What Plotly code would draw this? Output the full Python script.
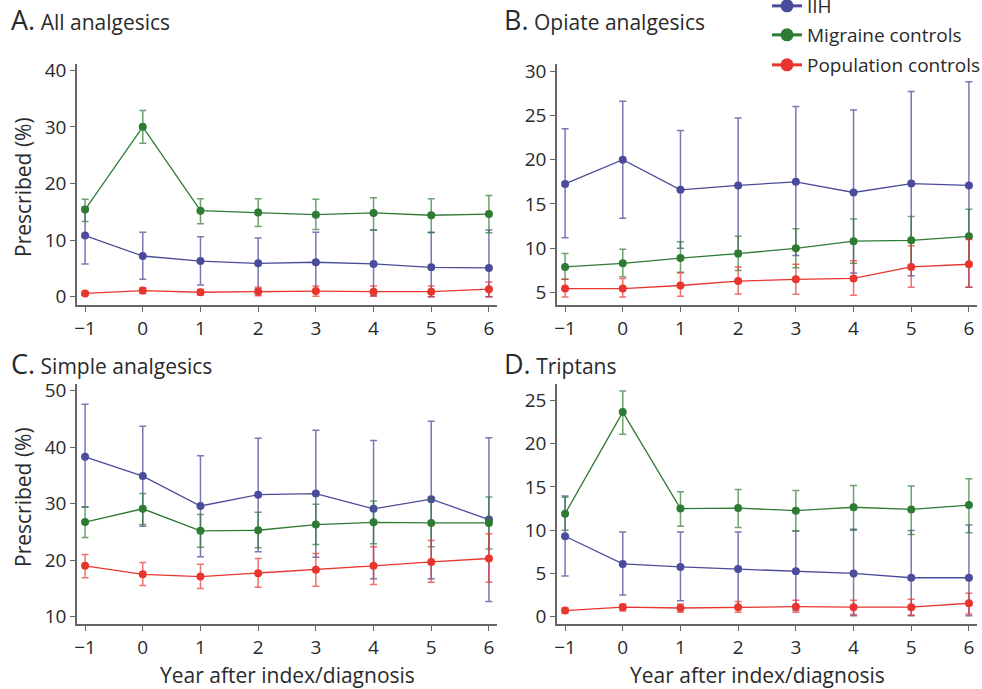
import plotly.graph_objects as go

years = [-1, 0, 1, 2, 3, 4, 5, 6]
year_labels = ["\u22121", "0", "1", "2", "3", "4", "5", "6"]
series_names = ["IIH", "Migraine controls", "Population controls"]
colors = {"IIH": "#4b4b9b", "Migraine controls": "#2e7b34", "Population controls": "#e8352e"}
err_colors = {"IIH": "rgba(75,75,155,0.75)", "Migraine controls": "rgba(46,123,52,0.7)",
              "Population controls": "rgba(232,53,46,0.7)"}

# Panel A: All analgesics (mean, upper CI, lower CI)
A_iih = [10.8, 7.2, 6.3, 5.9, 6.1, 5.8, 5.2, 5.1]
A_iih_hi = [15.9, 11.4, 10.6, 10.4, 11.4, 11.8, 11.4, 11.8]
A_iih_lo = [5.8, 3.1, 2.1, 1.4, 0.9, 0.2, 0.0, 0.0]
A_mig = [15.4, 30.0, 15.2, 14.9, 14.5, 14.8, 14.4, 14.6]
A_mig_hi = [17.2, 32.9, 17.3, 17.3, 17.2, 17.5, 17.3, 17.9]
A_mig_lo = [13.3, 27.1, 12.9, 12.4, 11.9, 11.8, 11.3, 11.3]
A_pop = [0.6, 1.1, 0.8, 0.9, 1.0, 0.9, 0.9, 1.35]
A_pop_hi = [0.9, 1.6, 1.3, 1.7, 1.9, 1.9, 1.9, 2.6]
A_pop_lo = [0.3, 0.6, 0.3, 0.2, 0.1, 0.1, 0.0, 0.0]

# Panel B: Opiate analgesics
B_iih = [17.26, 20.0, 16.6, 17.1, 17.5, 16.3, 17.3, 17.1]
B_iih_hi = [23.5, 26.6, 23.3, 24.7, 26.0, 25.6, 27.7, 28.8]
B_iih_lo = [11.2, 13.4, 10.0, 9.7, 9.2, 7.2, 6.9, 5.6]
B_mig = [7.9, 8.3, 8.9, 9.4, 10.0, 10.8, 10.9, 11.35]
B_mig_hi = [9.4, 9.9, 10.75, 11.35, 12.2, 13.3, 13.6, 14.4]
B_mig_lo = [6.5, 6.8, 7.3, 7.5, 7.8, 8.3, 8.1, 8.3]
B_pop = [5.45, 5.45, 5.8, 6.3, 6.5, 6.6, 7.9, 8.2]
B_pop_hi = [6.5, 6.6, 7.2, 7.9, 8.2, 8.6, 10.3, 11.0]
B_pop_lo = [4.5, 4.5, 4.6, 4.85, 4.8, 4.7, 5.6, 5.6]

# Panel C: Simple analgesics
C_iih = [38.3, 34.9, 29.6, 31.6, 31.8, 29.1, 30.8, 27.2]
C_iih_hi = [47.6, 43.7, 38.5, 41.6, 43.0, 41.2, 44.6, 41.7]
C_iih_lo = [29.4, 26.0, 20.6, 21.5, 20.5, 16.7, 16.7, 12.7]
C_mig = [26.75, 29.1, 25.2, 25.3, 26.3, 26.7, 26.6, 26.6]
C_mig_hi = [29.4, 31.8, 28.1, 28.5, 29.9, 30.5, 30.8, 31.2]
C_mig_lo = [24.0, 26.3, 22.3, 22.2, 22.8, 22.9, 22.4, 22.0]
C_pop = [19.0, 17.5, 17.1, 17.7, 18.3, 19.0, 19.7, 20.3]
C_pop_hi = [21.0, 19.6, 19.3, 20.3, 21.2, 22.4, 23.5, 24.7]
C_pop_lo = [16.9, 15.5, 15.0, 15.2, 15.4, 15.7, 16.1, 16.1]

# Panel D: Triptans
D_iih = [9.3, 6.1, 5.75, 5.5, 5.25, 5.0, 4.5, 4.5]
D_iih_hi = [13.95, 9.8, 9.8, 9.8, 9.9, 10.1, 9.95, 10.6]
D_iih_lo = [4.7, 2.5, 1.85, 1.15, 0.7, 0.1, 0.1, 0.1]
D_mig = [11.9, 23.65, 12.5, 12.55, 12.25, 12.65, 12.4, 12.9]
D_mig_hi = [13.8, 26.1, 14.45, 14.7, 14.6, 15.15, 15.1, 15.95]
D_mig_lo = [10.0, 21.1, 10.45, 10.3, 9.9, 10.0, 9.5, 9.7]
D_pop = [0.7, 1.1, 1.0, 1.1, 1.15, 1.1, 1.1, 1.55]
D_pop_hi = [1.0, 1.45, 1.45, 1.75, 1.9, 1.9, 2.0, 2.7]
D_pop_lo = [0.4, 0.65, 0.5, 0.5, 0.5, 0.25, 0.2, 0.3]

panel_letters = ["A.", "B.", "C.", "D."]
panel_titles = ["All analgesics", "Opiate analgesics", "Simple analgesics", "Triptans"]
x_title = "Year after index/diagnosis"
y_title = "Prescribed (%)"

panels = [
    {"IIH": (A_iih, A_iih_hi, A_iih_lo), "Migraine controls": (A_mig, A_mig_hi, A_mig_lo),
     "Population controls": (A_pop, A_pop_hi, A_pop_lo)},
    {"IIH": (B_iih, B_iih_hi, B_iih_lo), "Migraine controls": (B_mig, B_mig_hi, B_mig_lo),
     "Population controls": (B_pop, B_pop_hi, B_pop_lo)},
    {"IIH": (C_iih, C_iih_hi, C_iih_lo), "Migraine controls": (C_mig, C_mig_hi, C_mig_lo),
     "Population controls": (C_pop, C_pop_hi, C_pop_lo)},
    {"IIH": (D_iih, D_iih_hi, D_iih_lo), "Migraine controls": (D_mig, D_mig_hi, D_mig_lo),
     "Population controls": (D_pop, D_pop_hi, D_pop_lo)},
]

W, H = 982, 689
def px_x(p): return p / W
def px_y(p): return 1 - p / H

x_domains = [[px_x(77), px_x(497)], [px_x(557), px_x(977)], [px_x(77), px_x(497)], [px_x(557), px_x(977)]]
y_domains = [[px_y(305), px_y(64)], [px_y(305), px_y(64)], [px_y(624), px_y(384)], [px_y(624), px_y(384)]]
y_ranges = [[-1.45, 41.1], [3.6, 30.8], [8.7, 51.2], [-0.85, 26.9]]
y_ticks = [[0, 10, 20, 30, 40], [5, 10, 15, 20, 25, 30], [10, 20, 30, 40, 50], [0, 5, 10, 15, 20, 25]]

FONT = "Open Sans"
TXT = "#2a2a2a"
fig = go.Figure()

for i, pdata in enumerate(panels):
    xa = "x" if i == 0 else f"x{i+1}"
    ya = "y" if i == 0 else f"y{i+1}"
    for name in series_names:
        mean, hi, lo = pdata[name]
        fig.add_trace(go.Scatter(
            x=years, y=mean, mode="lines+markers", name=name, showlegend=False,
            xaxis=xa, yaxis=ya, cliponaxis=False,
            line=dict(color=colors[name], width=1.3),
            marker=dict(color=colors[name], size=8),
            error_y=dict(type="data", symmetric=False,
                         array=[h - m for h, m in zip(hi, mean)],
                         arrayminus=[m - l for m, l in zip(mean, lo)],
                         color=err_colors[name], thickness=1.5, width=3.5),
        ))

# legend-only entries
legend_ids = ["legend", "legend2", "legend3"]
for name, lid in zip(series_names, legend_ids):
    fig.add_trace(go.Scatter(x=[None], y=[None], mode="lines+markers", name=name,
                             legend=lid, showlegend=True,
                             line=dict(color=colors[name], width=3),
                             marker=dict(color=colors[name], size=13)))

axis_common = dict(showgrid=False, zeroline=False, showline=True, linecolor="#666666", linewidth=1.5,
                   ticks="outside", ticklen=5, tickwidth=1.2, tickcolor="#666666", automargin=False,
                   tickfont=dict(family=FONT, size=19, color=TXT))

layout = dict(width=W, height=H, margin=dict(l=0, r=0, t=0, b=0, autoexpand=False),
              paper_bgcolor="white", plot_bgcolor="white",
              font=dict(family=FONT, color=TXT))
for i in range(4):
    xk = "xaxis" if i == 0 else f"xaxis{i+1}"
    yk = "yaxis" if i == 0 else f"yaxis{i+1}"
    ya = "y" if i == 0 else f"y{i+1}"
    xa = "x" if i == 0 else f"x{i+1}"
    layout[xk] = dict(domain=x_domains[i], range=[-1.14, 6.14], anchor=ya,
                      tickvals=years, ticktext=year_labels, **axis_common)
    layout[yk] = dict(domain=y_domains[i], range=y_ranges[i], anchor=xa,
                      tickvals=y_ticks[i], **axis_common)

leg_y = [px_y(6), px_y(35), px_y(65)]
for lid, yy in zip(legend_ids, leg_y):
    layout[lid] = dict(x=px_x(767), y=yy, xanchor="left", yanchor="middle",
                       bgcolor="rgba(0,0,0,0)", borderwidth=0,
                       font=dict(family=FONT, size=19, color=TXT))

fig.update_layout(**layout)

annotations = []
title_pos = [(9, 20), (502, 20), (9, 363), (502, 363)]
for (tx, ty), letter, title in zip(title_pos, panel_letters, panel_titles):
    annotations.append(dict(xref="paper", yref="paper", x=px_x(tx), y=px_y(ty),
                            xanchor="left", yanchor="middle", showarrow=False,
                            text=f"<span style='font-size:27px'>{letter}</span> {title}",
                            font=dict(family=FONT, size=21, color=TXT)))
for cy in [187, 497]:
    annotations.append(dict(xref="paper", yref="paper", x=px_x(23), y=px_y(cy),
                            xanchor="center", yanchor="middle", showarrow=False, textangle=-90,
                            text=y_title, font=dict(family=FONT, size=21, color=TXT)))
for cx in [287, 757]:
    annotations.append(dict(xref="paper", yref="paper", x=px_x(cx), y=px_y(675),
                            xanchor="center", yanchor="middle", showarrow=False,
                            text=x_title, font=dict(family=FONT, size=21, color=TXT)))
fig.update_layout(annotations=annotations)

# remove the default page margin so the 982x689 figure fills the window exactly
fig.write_html("out.html", config={"displayModeBar": False},
               post_script="document.body.style.margin='0';")
